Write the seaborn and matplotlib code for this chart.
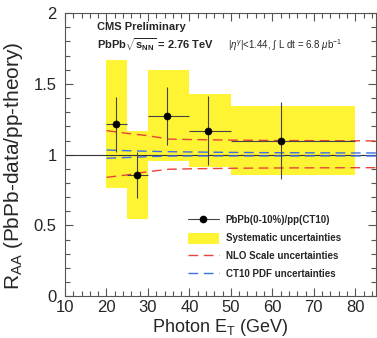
import numpy as np
import seaborn as sns
import matplotlib.pyplot as plt
from matplotlib.lines import Line2D
from matplotlib.patches import Patch
from matplotlib.ticker import MultipleLocator, FuncFormatter

# data
bin_lo = np.array([20, 25, 30, 40, 50])
bin_hi = np.array([25, 30, 40, 50, 80])
photon_et = np.array([22.3, 27.3, 34.5, 44.5, 62.0])
raa = np.array([1.215, 0.857, 1.275, 1.17, 1.10])
stat_err = np.array([0.195, 0.163, 0.204, 0.246, 0.27])
sys_err = np.array([0.452, 0.31, 0.323, 0.258, 0.244])

theory_et = [20, 25, 30, 35, 40, 50, 60, 70, 80, 85]
nlo_up = [1.17, 1.15, 1.134, 1.11, 1.107, 1.103, 1.10, 1.099, 1.098, 1.097]
nlo_lo = [0.84, 0.857, 0.88, 0.897, 0.90, 0.904, 0.906, 0.907, 0.908, 0.908]
pdf_up = [1.033, 1.028, 1.024, 1.021, 1.019, 1.016, 1.014, 1.013, 1.012, 1.012]
pdf_lo = [0.975, 0.98, 0.986, 0.99, 0.991, 0.991, 0.991, 0.991, 0.991, 0.991]

yellow = '#fff433'
red = '#e8433a'
blue = '#3a6fe8'

sns.set_style('ticks')
plt.rcParams['font.family'] = ['Liberation Sans', 'DejaVu Sans']
plt.rcParams['mathtext.fontset'] = 'custom'
plt.rcParams['mathtext.rm'] = 'Liberation Sans'
plt.rcParams['mathtext.it'] = 'Liberation Sans:italic'
plt.rcParams['mathtext.bf'] = 'Liberation Sans:bold'

fig = plt.figure(figsize=(3.77, 3.38), dpi=100)
ax = fig.add_axes([0.1724, 0.1234, 0.825, 0.838])

# systematic boxes
ax.bar(bin_lo, 2 * sys_err, bottom=raa - sys_err, width=bin_hi - bin_lo,
       align='edge', color=yellow, linewidth=0, zorder=1)

ax.axhline(1, color='#333333', lw=0.8, zorder=2)

# theory bands
dash = (0, (7, 4))
for ys, c in [(nlo_up, red), (nlo_lo, red), (pdf_up, blue), (pdf_lo, blue)]:
    sns.lineplot(x=theory_et, y=ys, ax=ax, color=c, lw=1.0, linestyle=dash, zorder=3)

# data points
ax.errorbar(photon_et, raa, yerr=stat_err,
            xerr=[photon_et - bin_lo, bin_hi - photon_et],
            fmt='none', ecolor='#444444', elinewidth=0.8, zorder=4)
sns.scatterplot(x=photon_et, y=raa, ax=ax, color='black', s=26,
                edgecolor='black', zorder=5)

ax.set_xlim(10, 85)
ax.set_ylim(0, 2)
ax.xaxis.set_major_locator(MultipleLocator(10))
ax.xaxis.set_minor_locator(MultipleLocator(2))
ax.yaxis.set_major_locator(MultipleLocator(0.5))
ax.yaxis.set_minor_locator(MultipleLocator(0.1))
ax.yaxis.set_major_formatter(FuncFormatter(lambda v, p: '%g' % v))
ax.tick_params(which='both', direction='in', top=True, right=True,
               color='#555555', width=0.8)
ax.tick_params(which='major', length=6, labelsize=12)
ax.tick_params(which='minor', length=3.5)
ax.tick_params(axis='y', pad=6)
ax.tick_params(axis='x', pad=3)
for s in ax.spines.values():
    s.set_color('#555555')
    s.set_linewidth(0.8)

ax.set_xlabel(r'Photon E$_{\rm T}$ (GeV)', fontsize=13, labelpad=1)
ax.set_ylabel(r'R$_{\rm AA}$ (PbPb-data/pp-theory)', fontsize=15)
ax.yaxis.set_label_coords(-0.128, 0.46)

ax.text(17.6, 1.90, 'CMS Preliminary', fontsize=8, fontweight='bold', va='center')
ax.text(17.6, 1.775, r'PbPb$\sqrt{\mathbf{s}_{\mathbf{NN}}}$ = 2.76 TeV', fontsize=8,
        fontweight='bold', va='center')
ax.text(49.2, 1.775, r'|$\eta^{\gamma}$|<1.44, $\int$ L dt = 6.8 $\mu$b$^{-1}$',
        fontsize=7, va='center')

handles = [
    Line2D([], [], color='#444444', lw=0.8, marker='o', markersize=4.5,
           markerfacecolor='black', markeredgecolor='black'),
    Patch(facecolor=yellow, edgecolor='none'),
    Line2D([], [], color=red, lw=1.0, linestyle=dash),
    Line2D([], [], color=blue, lw=1.0, linestyle=dash),
]
labels = ['PbPb(0-10%)/pp(CT10)', 'Systematic uncertainties',
          'NLO Scale uncertainties', 'CT10 PDF uncertainties']
ax.legend(handles, labels, loc='center left', bbox_to_anchor=(0.395, 0.174),
          frameon=False, borderaxespad=0, borderpad=0, handlelength=3.2,
          handleheight=1.35, handletextpad=0.7, labelspacing=0.72,
          prop={'size': 7, 'weight': 'bold'})

fig.savefig('out.png', dpi=100)
